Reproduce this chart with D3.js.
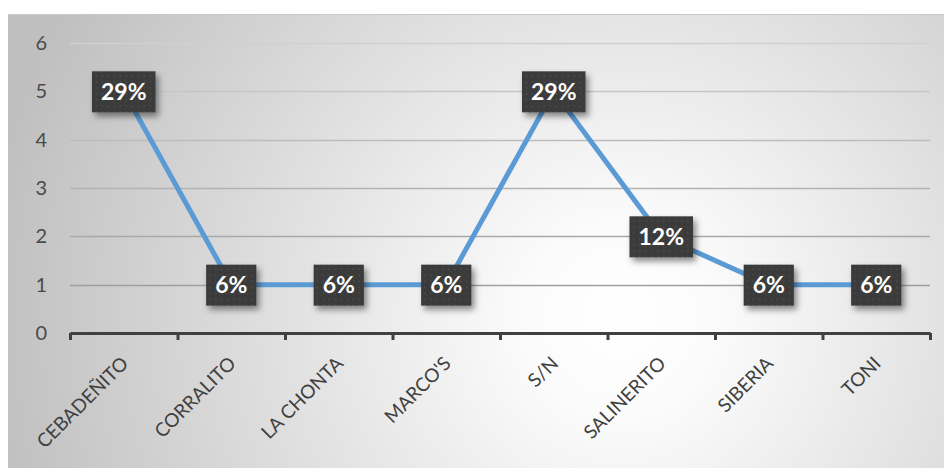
<!DOCTYPE html>
<html>
<head>
<meta charset="utf-8">
<script src="https://cdn.jsdelivr.net/npm/d3@7"></script>
<style>
  html, body { margin: 0; padding: 0; background: #ffffff; }
  svg { display: block; }
  text { font-family: Lato, "Open Sans", "Noto Sans", sans-serif; }
</style>
</head>
<body>
<svg id="chart" width="944" height="468"></svg>
<script>
// Data
const categories = ["CEBADEÑITO", "CORRALITO", "LA CHONTA", "MARCO'S", "S/N", "SALINERITO", "SIBERIA", "TONI"];
const counts = [5, 1, 1, 1, 5, 2, 1, 1];
const percentLabels = ["29%", "6%", "6%", "6%", "29%", "12%", "6%", "6%"];
const yTicks = [0, 1, 2, 3, 4, 5, 6];

const W = 944, H = 468;
const plot = { left: 70, right: 930, top: 43, bottom: 333 };

const svg = d3.select("#chart");
const defs = svg.append("defs");

// Radial background of the chart area
const bg = defs.append("radialGradient").attr("id", "bgGrad")
  .attr("gradientUnits", "userSpaceOnUse")
  .attr("cx", 620).attr("cy", 320).attr("r", 640);
bg.append("stop").attr("offset", "0%").attr("stop-color", "#ffffff");
bg.append("stop").attr("offset", "15%").attr("stop-color", "#fbfbfb");
bg.append("stop").attr("offset", "100%").attr("stop-color", "#bfbfbf");

// Gridline stroke fades toward the top
const gg = defs.append("linearGradient").attr("id", "gridGrad")
  .attr("gradientUnits", "userSpaceOnUse")
  .attr("x1", 0).attr("y1", plot.top).attr("x2", 0).attr("y2", plot.bottom);
gg.append("stop").attr("offset", "0%").attr("stop-color", "#d0d0d0");
gg.append("stop").attr("offset", "100%").attr("stop-color", "#959595");

// Dotted texture for the label boxes
const pat = defs.append("pattern").attr("id", "dots")
  .attr("patternUnits", "userSpaceOnUse").attr("width", 6).attr("height", 6);
pat.append("rect").attr("width", 6).attr("height", 6).attr("fill", "#3a3a3a");
pat.append("rect").attr("x", 2).attr("y", 2).attr("width", 1.2).attr("height", 1.2).attr("fill", "#5a5a5a");

// Soft shadow under label boxes
const sh = defs.append("filter").attr("id", "shadow")
  .attr("x", "-30%").attr("y", "-30%").attr("width", "170%").attr("height", "170%");
sh.append("feDropShadow").attr("dx", 3).attr("dy", 4).attr("stdDeviation", 3)
  .attr("flood-color", "#000").attr("flood-opacity", 0.45);

// Chart area
svg.append("rect").attr("x", 8).attr("y", 14).attr("width", W - 8).attr("height", H - 14)
  .attr("fill", "url(#bgGrad)");
svg.append("line").attr("x1", 8).attr("x2", W).attr("y1", 14.5).attr("y2", 14.5)
  .attr("stroke", "#c8c8c8").attr("stroke-width", 1);

// Scales
const x = d3.scaleBand().domain(categories).range([plot.left, plot.right]);
const xEdge = d3.scaleLinear().domain([0, categories.length]).range([plot.left, plot.right]);
const y = d3.scaleLinear().domain([0, 6]).range([plot.bottom, plot.top]);
const cx = d => x(d) + x.bandwidth() / 2;

// Gridlines
svg.append("g").selectAll("line").data(yTicks.filter(t => t > 0)).join("line")
  .attr("x1", plot.left).attr("x2", plot.right)
  .attr("y1", d => Math.round(y(d)) + 0.5).attr("y2", d => Math.round(y(d)) + 0.5)
  .attr("stroke", "url(#gridGrad)").attr("stroke-width", 1.3);

// Y axis labels
const yAxis = svg.append("g").attr("transform", `translate(${plot.left},0)`)
  .call(d3.axisLeft(y).tickValues(yTicks).tickSize(0).tickPadding(23).tickFormat(d3.format("d")));
yAxis.select(".domain").remove();
yAxis.attr("font-size", 20).attr("font-family", "Lato, 'Open Sans', sans-serif");
yAxis.selectAll("text").attr("fill", "#4a4a4a");

// X axis line and boundary ticks
const xTicksAxis = svg.append("g").attr("transform", `translate(0,${plot.bottom})`)
  .call(d3.axisBottom(xEdge).tickValues(d3.range(categories.length + 1)).tickSize(7).tickSizeOuter(0).tickFormat(""));
xTicksAxis.select(".domain").attr("stroke", "#404040").attr("stroke-width", 3);
xTicksAxis.selectAll(".tick line").attr("stroke", "#404040").attr("stroke-width", 3);

// X axis category labels
const xAxis = svg.append("g").attr("transform", `translate(0,${plot.bottom})`)
  .call(d3.axisBottom(x).tickSize(0).tickPadding(0));
xAxis.select(".domain").remove();
xAxis.attr("font-size", 19).attr("font-family", "Lato, 'Open Sans', sans-serif");
xAxis.selectAll("text")
  .attr("fill", "#404040")
  .attr("text-anchor", "end")
  .attr("y", 0)
  .attr("dy", "0.35em")
  .attr("transform", "translate(1,27) rotate(-45)");

// Line series
const line = d3.line().x((d, i) => cx(categories[i])).y(d => y(d));
svg.append("path").datum(counts)
  .attr("d", line)
  .attr("fill", "none").attr("stroke", "#5b9bd5").attr("stroke-width", 5)
  .attr("stroke-linejoin", "round");

// Data labels
const lbl = svg.append("g").selectAll("g").data(counts).join("g")
  .attr("transform", (d, i) => `translate(${cx(categories[i])},${y(d)})`);
const rects = lbl.append("rect").attr("fill", "url(#dots)").attr("filter", "url(#shadow)");
const texts = lbl.append("text")
  .text((d, i) => percentLabels[i])
  .attr("text-anchor", "middle").attr("dy", "0.36em")
  .attr("font-size", 23).attr("font-weight", "bold").attr("fill", "#ffffff")
  .attr("font-family", "Lato, 'Open Sans', sans-serif");
texts.each(function(d, i) {
  const w = this.getComputedTextLength() + 18;
  const h = 41;
  d3.select(rects.nodes()[i])
    .attr("x", -w / 2).attr("y", -h / 2 + 0.5).attr("width", w).attr("height", h);
});
</script>
</body>
</html>
